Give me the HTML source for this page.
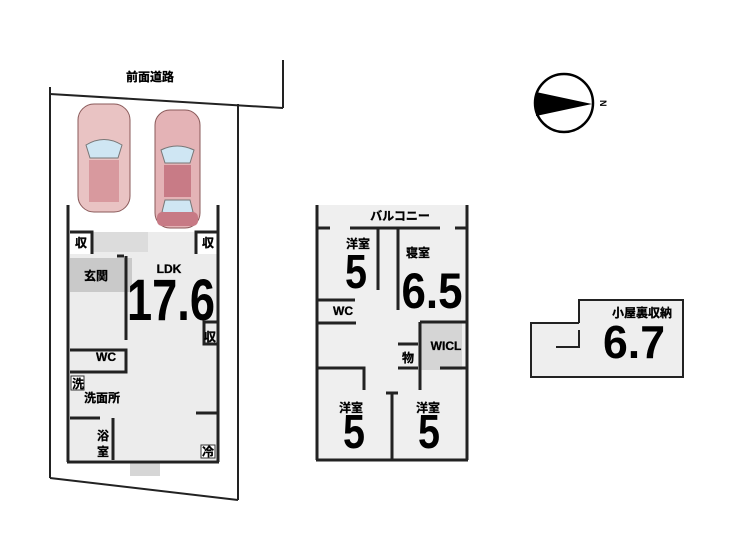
<!DOCTYPE html>
<html><head><meta charset="utf-8"><style>
html,body{margin:0;padding:0;background:#fff;}
svg{display:block;}
text{font-family:"Liberation Sans","Noto Sans CJK JP",sans-serif;}
.j{font-weight:bold;font-size:12px;fill:#000;stroke:#000;stroke-width:0.3;}
.big{font-weight:bold;fill:#000;font-family:"Liberation Sans Narrow","Liberation Sans",sans-serif;}
</style></head><body>
<svg width="735" height="538" viewBox="0 0 735 538" xmlns="http://www.w3.org/2000/svg">
<rect width="735" height="538" fill="#fff"/>
<text x="150" y="81" class="j" text-anchor="middle">前面道路</text>
<g stroke="#222" stroke-width="2" fill="none">
<line x1="50" y1="87" x2="50" y2="478"/>
<line x1="50" y1="94" x2="283" y2="108"/>
<line x1="283" y1="60" x2="283" y2="108"/>
<line x1="238" y1="104" x2="238" y2="500"/>
<line x1="50" y1="478" x2="238" y2="500"/>
</g>
<g>
<rect x="78" y="104" width="52" height="108" rx="16" fill="#e9c3c3" stroke="#8a5a5a"/>
<path d="M86 145 Q104 134 122 145 L118 158 L90 158Z" fill="#cfe6f3" stroke="#777"/>
<rect x="89" y="160" width="30" height="42" fill="#d8999e"/>
<rect x="155" y="110" width="45" height="118" rx="15" fill="#e4b3b6" stroke="#8a5a5a"/>
<path d="M161 150 Q177 142 194 150 L190 163 L165 163Z" fill="#cfe6f3" stroke="#777"/>
<rect x="164" y="165" width="27" height="32" fill="#c87b86"/>
<path d="M165 200 L190 200 L193 212 Q177 218 162 212Z" fill="#cfe6f3" stroke="#777"/>
<rect x="157" y="212" width="41" height="14" rx="5" fill="#c77a85"/>
</g>
<rect x="70" y="232" width="147" height="228" fill="#ececec"/>
<rect x="70" y="258" width="62" height="34" fill="#c9c9c9"/>
<rect x="93" y="232" width="55" height="20" fill="#dcdcdc"/>
<rect x="70" y="232" width="22" height="22" fill="#fff"/>
<rect x="196" y="232" width="21" height="22" fill="#fff"/>
<rect x="130" y="462" width="30" height="14" fill="#d6d6d6"/>
<g stroke="#222" stroke-width="3" fill="none">
<line x1="68" y1="205" x2="68" y2="462"/>
<line x1="218" y1="205" x2="218" y2="462"/>
<line x1="67" y1="462" x2="219" y2="462"/>
<polyline points="70,232 92,232 92,254"/>
<polyline points="217,232 196,232 196,254"/>
<polyline points="117,256 124,256"/>
<line x1="126" y1="256" x2="126" y2="340"/>
<polyline points="70,350 126,350 126,372 70,372"/>
<polyline points="70,418 100,418"/>
<line x1="113" y1="418" x2="113" y2="460"/>
<polyline points="217,322 204,322 204,344 217,344"/>
<polyline points="217,413 196,413"/>
</g>
<text x="75" y="247" class="j">収</text>
<text x="202" y="247" class="j">収</text>
<text x="84" y="280" class="j">玄関</text>
<text x="169" y="273" class="j" text-anchor="middle">LDK</text>
<text x="171" y="320" class="big" font-size="58" text-anchor="middle" textLength="88" lengthAdjust="spacingAndGlyphs">17.6</text>
<text x="204" y="341" class="j">収</text>
<text x="96" y="361" class="j">WC</text>
<rect x="71" y="376" width="13" height="14" fill="#fff" stroke="#333"/>
<text x="72" y="388" class="j" font-size="11">洗</text>
<text x="84" y="402" class="j">洗面所</text>
<text x="97" y="440" class="j">浴</text>
<text x="97" y="456" class="j">室</text>
<rect x="201" y="445" width="14" height="13" fill="#fff" stroke="#333"/>
<text x="202" y="456" class="j" font-size="11">冷</text>
<rect x="318" y="205" width="148" height="255" fill="#efefef"/>
<rect x="418" y="322" width="44" height="48" fill="#d5d5d5"/>
<g stroke="#222" stroke-width="3" fill="none">
<line x1="317" y1="205" x2="317" y2="460"/>
<line x1="467" y1="205" x2="467" y2="460"/>
<line x1="316" y1="460" x2="468" y2="460"/>
<line x1="317" y1="228" x2="330" y2="228"/>
<line x1="350" y1="228" x2="440" y2="228"/>
<line x1="455" y1="228" x2="467" y2="228"/>
<line x1="398" y1="228" x2="398" y2="310"/>
<line x1="378" y1="228" x2="378" y2="290"/>
<polyline points="317,300 355,300"/>
<polyline points="317,323 356,323"/>
<polyline points="420,322 467,322"/>
<line x1="420" y1="322" x2="420" y2="390"/>
<polyline points="398,344 418,344"/>
<polyline points="398,368 418,368"/>
<polyline points="317,368 364,368 364,390"/>
<polyline points="440,368 467,368"/>
<line x1="392" y1="393" x2="392" y2="460"/>
<line x1="386" y1="393" x2="398" y2="393"/>
</g>
<text x="400" y="220" class="j" font-size="11" text-anchor="middle">バルコニー</text>
<text x="358" y="248" class="j" text-anchor="middle">洋室</text>
<text x="356" y="288" class="big" font-size="48" text-anchor="middle" textLength="22" lengthAdjust="spacingAndGlyphs">5</text>
<text x="418" y="257" class="j" text-anchor="middle">寝室</text>
<text x="432" y="308" class="big" font-size="50" text-anchor="middle" textLength="61" lengthAdjust="spacingAndGlyphs">6.5</text>
<text x="343" y="315" class="j" text-anchor="middle">WC</text>
<text x="446" y="350" class="j" text-anchor="middle">WICL</text>
<text x="408" y="362" class="j" text-anchor="middle">物</text>
<text x="351" y="412" class="j" text-anchor="middle">洋室</text>
<text x="354" y="448" class="big" font-size="48" text-anchor="middle" textLength="22" lengthAdjust="spacingAndGlyphs">5</text>
<text x="428" y="412" class="j" text-anchor="middle">洋室</text>
<text x="429" y="448" class="big" font-size="48" text-anchor="middle" textLength="22" lengthAdjust="spacingAndGlyphs">5</text>
<circle cx="564" cy="103" r="29" fill="#fff" stroke="#000" stroke-width="2.5"/>
<polygon points="536,92 592,104 536,116" fill="#000"/>
<text x="600" y="108" font-size="9" font-weight="bold" fill="#000" transform="rotate(90 604 104)">N</text>
<rect x="531" y="323" width="152" height="54" fill="#eeeeee"/>
<rect x="579" y="300" width="104" height="24" fill="#eeeeee"/>
<g stroke="#222" stroke-width="2" fill="none">
<polyline points="579,323 579,300 683,300 683,377 531,377 531,323 579,323"/>
<polyline points="556,347 579,347 579,330"/>
</g>
<text x="642" y="317" class="j" text-anchor="middle">小屋裏収納</text>
<text x="634" y="358" class="big" font-size="46" text-anchor="middle" textLength="62" lengthAdjust="spacingAndGlyphs">6.7</text>
</svg>
</body></html>
